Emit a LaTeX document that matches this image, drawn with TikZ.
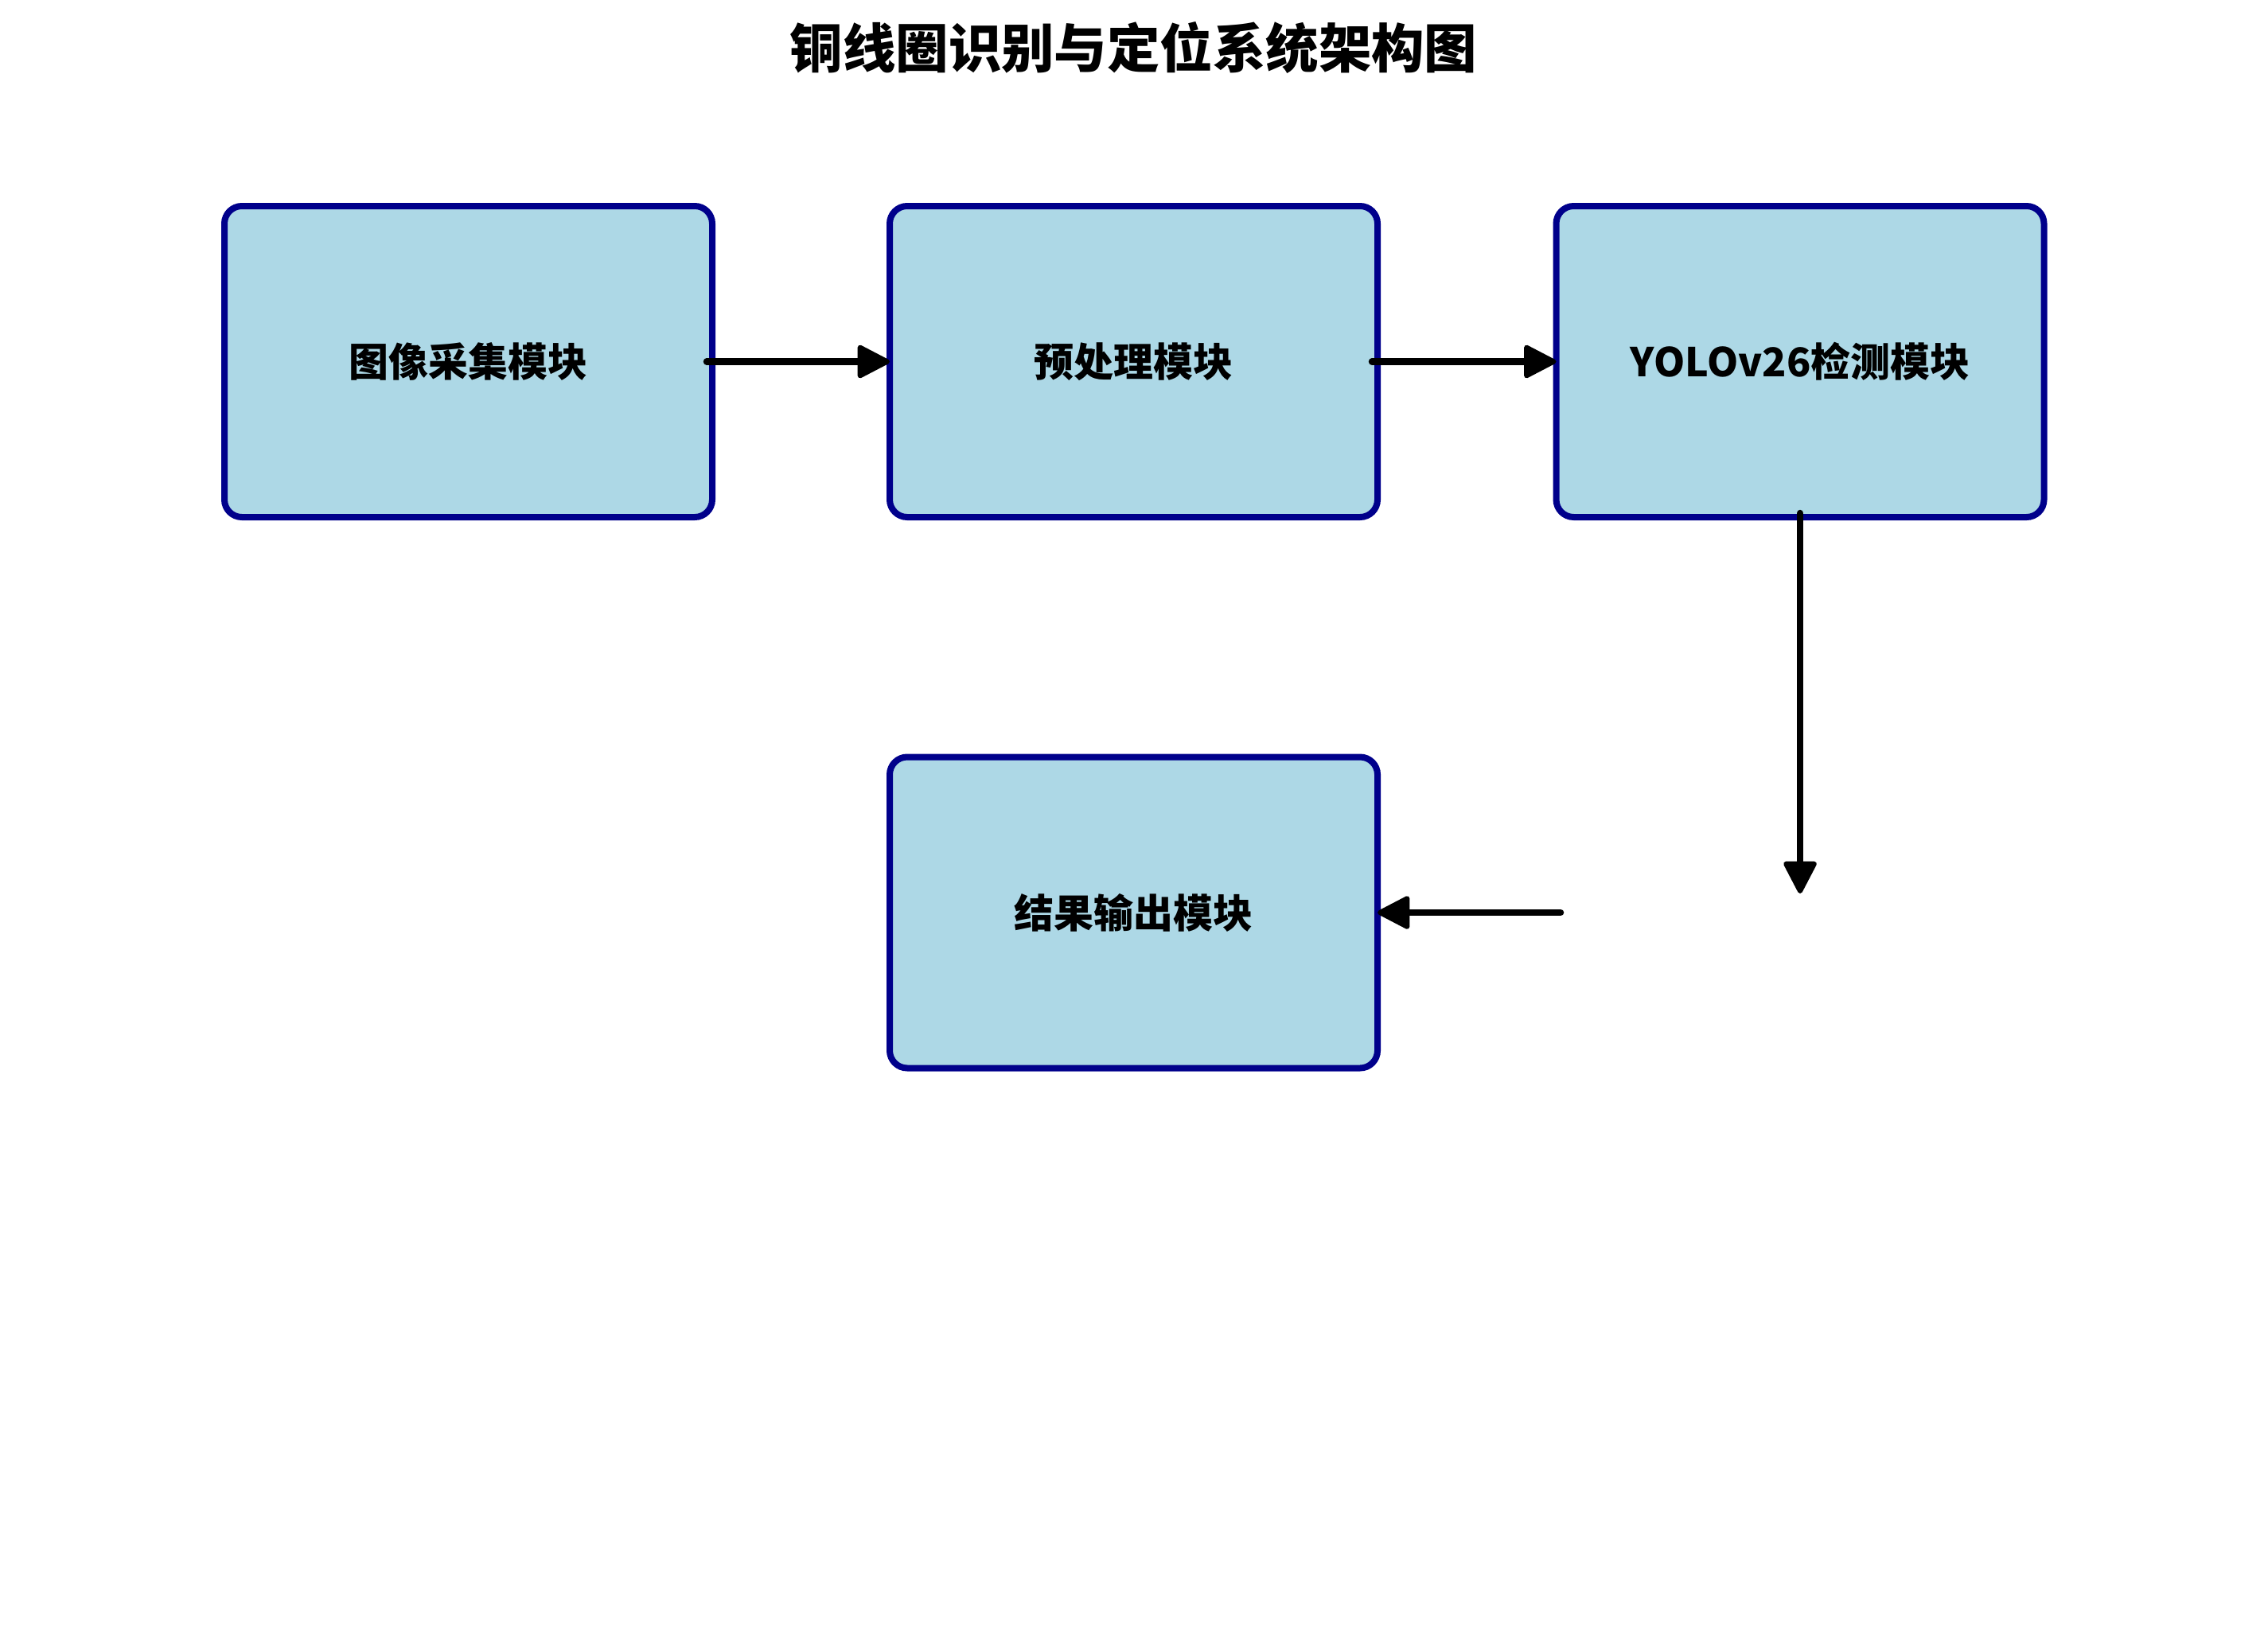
\documentclass[tikz,border=0pt]{standalone}
\usepackage{fontspec}
\newfontfamily\cjk{Noto Sans CJK SC}
\usetikzlibrary{arrows.meta}
\definecolor{boxfill}{HTML}{ADD8E6}
\definecolor{boxline}{HTML}{00008B}
\tikzset{
  modbox/.style={draw=boxline, fill=boxfill, line width=0.08cm, rounded corners=0.22cm,
    minimum width=6.13cm, minimum height=3.91cm, inner sep=0pt, outer sep=0pt,
    font=\cjk\bfseries\fontsize{14.2pt}{17pt}\selectfont},
  flow/.style={line width=0.085cm, line cap=round, black,
    -{Triangle[length=0.44cm, width=0.44cm, line width=0.06cm, round]}}
}
\begin{document}
\begin{tikzpicture}
\useasboundingbox (0,0) rectangle (28.5,-20.44);
\node[font=\cjk\bfseries\fontsize{18.9pt}{22pt}\selectfont] (title) at (14.245,-0.60) {铜线圈识别与定位系统架构图};
\node[modbox] (b1) at (5.885,-4.545) {图像采集模块};
\node[modbox] (b2) at (14.245,-4.545) {预处理模块};
\node[modbox] (b3) at (22.62,-4.545) {YOLOv26检测模块};
\node[modbox] (b4) at (14.245,-11.47) {结果输出模块};
\coordinate (s1) at ([xshift=-0.07cm]b1.east);
\coordinate (s2) at ([xshift=-0.07cm]b2.east);
\coordinate (s3) at ([yshift=0.05cm]b3.south);
\coordinate (d) at (22.62,-11.23);
\coordinate (e) at ([xshift=2.30cm]b4.east);
\draw[flow] (s1) -- (b2.west);
\draw[flow] (s2) -- (b3.west);
\draw[flow] (s3) -- (d);
\draw[flow] (e) -- (b4.east);
\end{tikzpicture}
\end{document}
